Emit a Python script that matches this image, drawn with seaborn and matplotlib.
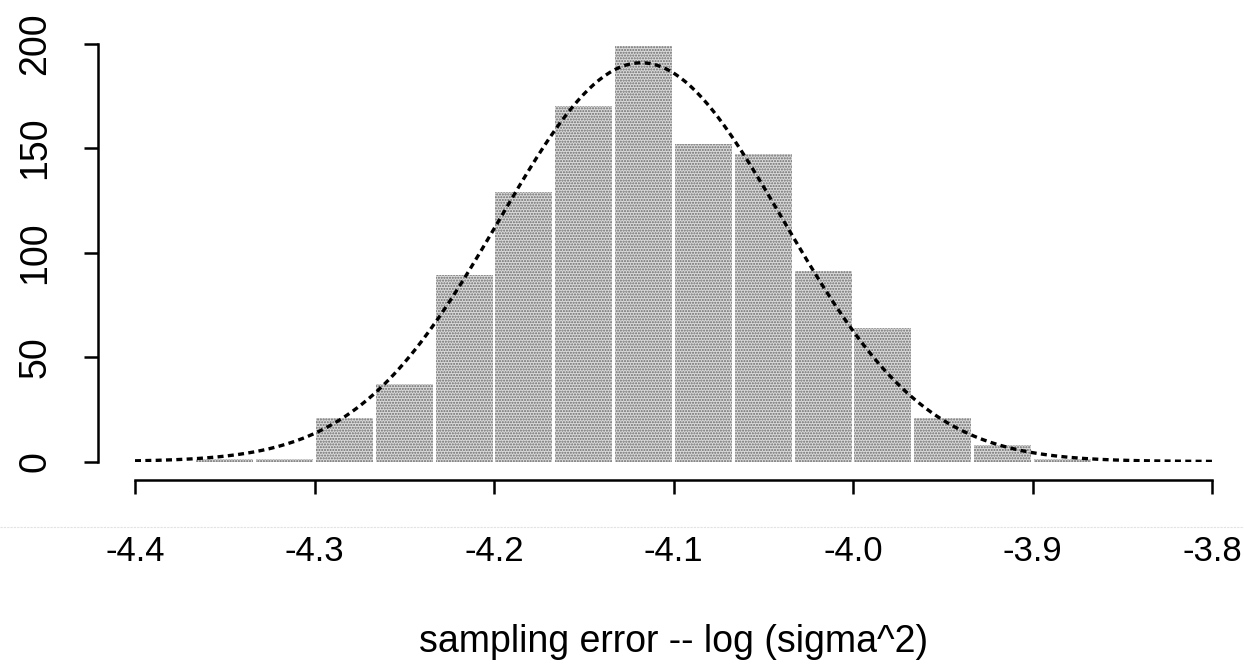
import numpy as np
import pandas as pd
import matplotlib
matplotlib.use("Agg")
import matplotlib.pyplot as plt
from matplotlib.lines import Line2D
import seaborn as sns

# histogram bins (width 1/30) and counts
bin_edges = [-4.3667, -4.3333, -4.3, -4.2667, -4.2333, -4.2, -4.1667, -4.1333,
             -4.1, -4.0667, -4.0333, -4.0, -3.9667, -3.9333, -3.9, -3.8667]
counts = [1, 1, 21, 37, 89, 129, 170, 199, 152, 147, 91, 64, 21, 8, 1]

# fitted normal overlay
fit_mean = -4.118
fit_sd = 0.079

x_ticks = [-4.4, -4.3, -4.2, -4.1, -4.0, -3.9, -3.8]
x_ticklabels = ["-4.4", "-4.3", "-4.2", "-4.1", "-4.0", "-3.9", "-3.8"]
y_ticks = [0, 50, 100, 150, 200]
x_label = "sampling error -- log (sigma^2)"

sns.set_style("ticks")
plt.rcParams["font.family"] = ["Liberation Sans", "DejaVu Sans"]

fig = plt.figure(figsize=(12.44, 6.65), dpi=100)
ax = fig.add_axes([135 / 1244, 1 - 461.5 / 665, 1077 / 1244, 418 / 665])

edges = np.array(bin_edges)
df = pd.DataFrame({"x": (edges[:-1] + edges[1:]) / 2, "n": counts})
sns.histplot(data=df, x="x", weights="n", bins=list(bin_edges), ax=ax, shrink=0.95,
             facecolor="#dadada", edgecolor="#6a6a6a", linewidth=0,
             hatch="......")

# normal curve scaled to counts
binw = edges[1] - edges[0]
xs = np.linspace(-4.4, -3.8, 400)
ys = np.sum(counts) * binw * np.exp(-0.5 * ((xs - fit_mean) / fit_sd) ** 2) / (fit_sd * np.sqrt(2 * np.pi))
sns.lineplot(x=xs, y=ys, ax=ax, color="black", linewidth=2.4,
             linestyle=(0, (1.8, 1.3)))

ax.set_xlim(-4.4, -3.8)
ax.set_ylim(0, 200)
ax.set_xticks(x_ticks)
ax.set_xticklabels(x_ticklabels)
ax.set_yticks(y_ticks)
ax.set_ylabel("")
ax.set_xlabel(x_label, fontsize=27, labelpad=40, color="black")

for side in ["top", "right"]:
    ax.spines[side].set_visible(False)
ax.spines["left"].set_position(("outward", 27))
ax.spines["bottom"].set_position(("outward", 13))
ax.spines["left"].set_bounds(0, 200)
ax.spines["bottom"].set_bounds(-4.4, -3.8)
for side in ["left", "bottom"]:
    ax.spines[side].set_linewidth(1.8)
    ax.spines[side].set_color("black")

ax.tick_params(axis="both", length=10, width=1.8, colors="black")
ax.tick_params(axis="x", pad=30, labelsize=25)
ax.tick_params(axis="y", pad=22, labelrotation=90, labelsize=27)
for lab in ax.get_yticklabels():
    lab.set_va("center")

# faint scanner line across the page
fig.add_artist(Line2D([0, 1], [1 - 527 / 665] * 2, color="#e2e2e2", linewidth=0.8,
                      linestyle=(0, (2, 1))))

fig.savefig("out.png", dpi=100, facecolor="white")
